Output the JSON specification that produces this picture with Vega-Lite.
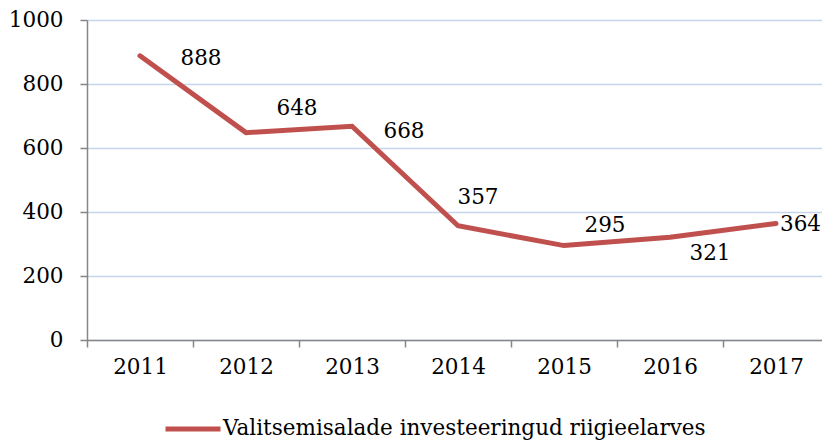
{
  "$schema": "https://vega.github.io/schema/vega-lite/v6.json",
  "width": 742,
  "height": 320,
  "autosize": {"type": "none"},
  "padding": {"left": 87, "top": 20, "right": 0, "bottom": 101},
  "background": "white",
  "config": {
    "view": {"stroke": null},
    "font": "DejaVu Serif"
  },
  "data": {
    "values": [
      {"year": "2011", "value": 888, "series": "Valitsemisalade investeeringud riigieelarves"},
      {"year": "2012", "value": 648, "series": "Valitsemisalade investeeringud riigieelarves"},
      {"year": "2013", "value": 668, "series": "Valitsemisalade investeeringud riigieelarves"},
      {"year": "2014", "value": 357, "series": "Valitsemisalade investeeringud riigieelarves"},
      {"year": "2015", "value": 295, "series": "Valitsemisalade investeeringud riigieelarves"},
      {"year": "2016", "value": 321, "series": "Valitsemisalade investeeringud riigieelarves"},
      {"year": "2017", "value": 364, "series": "Valitsemisalade investeeringud riigieelarves"}
    ]
  },
  "encoding": {
    "x": {
      "field": "year", "type": "ordinal", "bandPosition": 0.5,
      "scale": {"type": "band", "paddingInner": 0, "paddingOuter": 0},
      "axis": {
        "title": null, "labelAngle": 0, "tickBand": "extent",
        "domainColor": "#868686", "domainWidth": 1.5,
        "tickColor": "#868686", "tickWidth": 1.5, "tickSize": 7,
        "labelFont": "DejaVu Serif", "labelFontSize": 21.5, "labelColor": "black",
        "labelPadding": 9, "grid": false
      }
    },
    "y": {
      "field": "value", "type": "quantitative",
      "scale": {"domain": [0, 1000], "nice": false},
      "axis": {
        "title": null, "values": [0, 200, 400, 600, 800, 1000], "format": "d",
        "grid": true, "gridColor": "#C6D4EC", "gridWidth": 1.5,
        "domainColor": "#868686", "domainWidth": 1.5,
        "tickColor": "#868686", "tickWidth": 1.5, "tickSize": 7,
        "labelFont": "DejaVu Serif", "labelFontSize": 21.5, "labelColor": "black",
        "labelPadding": 17
      }
    }
  },
  "layer": [
    {
      "mark": {"type": "line", "strokeWidth": 5, "strokeCap": "round"},
      "encoding": {
        "color": {
          "field": "series", "type": "nominal",
          "scale": {"range": ["#C0504D"]},
          "legend": {
            "title": null, "orient": "none", "legendX": 76, "legendY": 379,
            "symbolType": "stroke", "symbolSize": 3025, "symbolStrokeWidth": 5,
            "labelFont": "DejaVu Serif", "labelFontSize": 21.5, "labelColor": "black",
            "labelOffset": 0, "labelLimit": 600
          }
        }
      }
    },
    {"transform": [{"filter": "datum.year == '2011'"}], "mark": {"type": "text", "fontSize": 21.5, "font": "DejaVu Serif", "color": "black", "align": "center", "baseline": "middle", "dx": 61, "dy": 3}, "encoding": {"text": {"field": "value"}}},
    {"transform": [{"filter": "datum.year == '2012'"}], "mark": {"type": "text", "fontSize": 21.5, "font": "DejaVu Serif", "color": "black", "align": "center", "baseline": "middle", "dx": 51, "dy": -24}, "encoding": {"text": {"field": "value"}}},
    {"transform": [{"filter": "datum.year == '2013'"}], "mark": {"type": "text", "fontSize": 21.5, "font": "DejaVu Serif", "color": "black", "align": "center", "baseline": "middle", "dx": 52, "dy": 6}, "encoding": {"text": {"field": "value"}}},
    {"transform": [{"filter": "datum.year == '2014'"}], "mark": {"type": "text", "fontSize": 21.5, "font": "DejaVu Serif", "color": "black", "align": "center", "baseline": "middle", "dx": 20, "dy": -28}, "encoding": {"text": {"field": "value"}}},
    {"transform": [{"filter": "datum.year == '2015'"}], "mark": {"type": "text", "fontSize": 21.5, "font": "DejaVu Serif", "color": "black", "align": "center", "baseline": "middle", "dx": 41, "dy": -20}, "encoding": {"text": {"field": "value"}}},
    {"transform": [{"filter": "datum.year == '2016'"}], "mark": {"type": "text", "fontSize": 21.5, "font": "DejaVu Serif", "color": "black", "align": "center", "baseline": "middle", "dx": 40, "dy": 17}, "encoding": {"text": {"field": "value"}}},
    {"transform": [{"filter": "datum.year == '2017'"}], "mark": {"type": "text", "fontSize": 21.5, "font": "DejaVu Serif", "color": "black", "align": "left", "baseline": "middle", "dx": 4, "dy": 1}, "encoding": {"text": {"field": "value"}}}
  ]
}
